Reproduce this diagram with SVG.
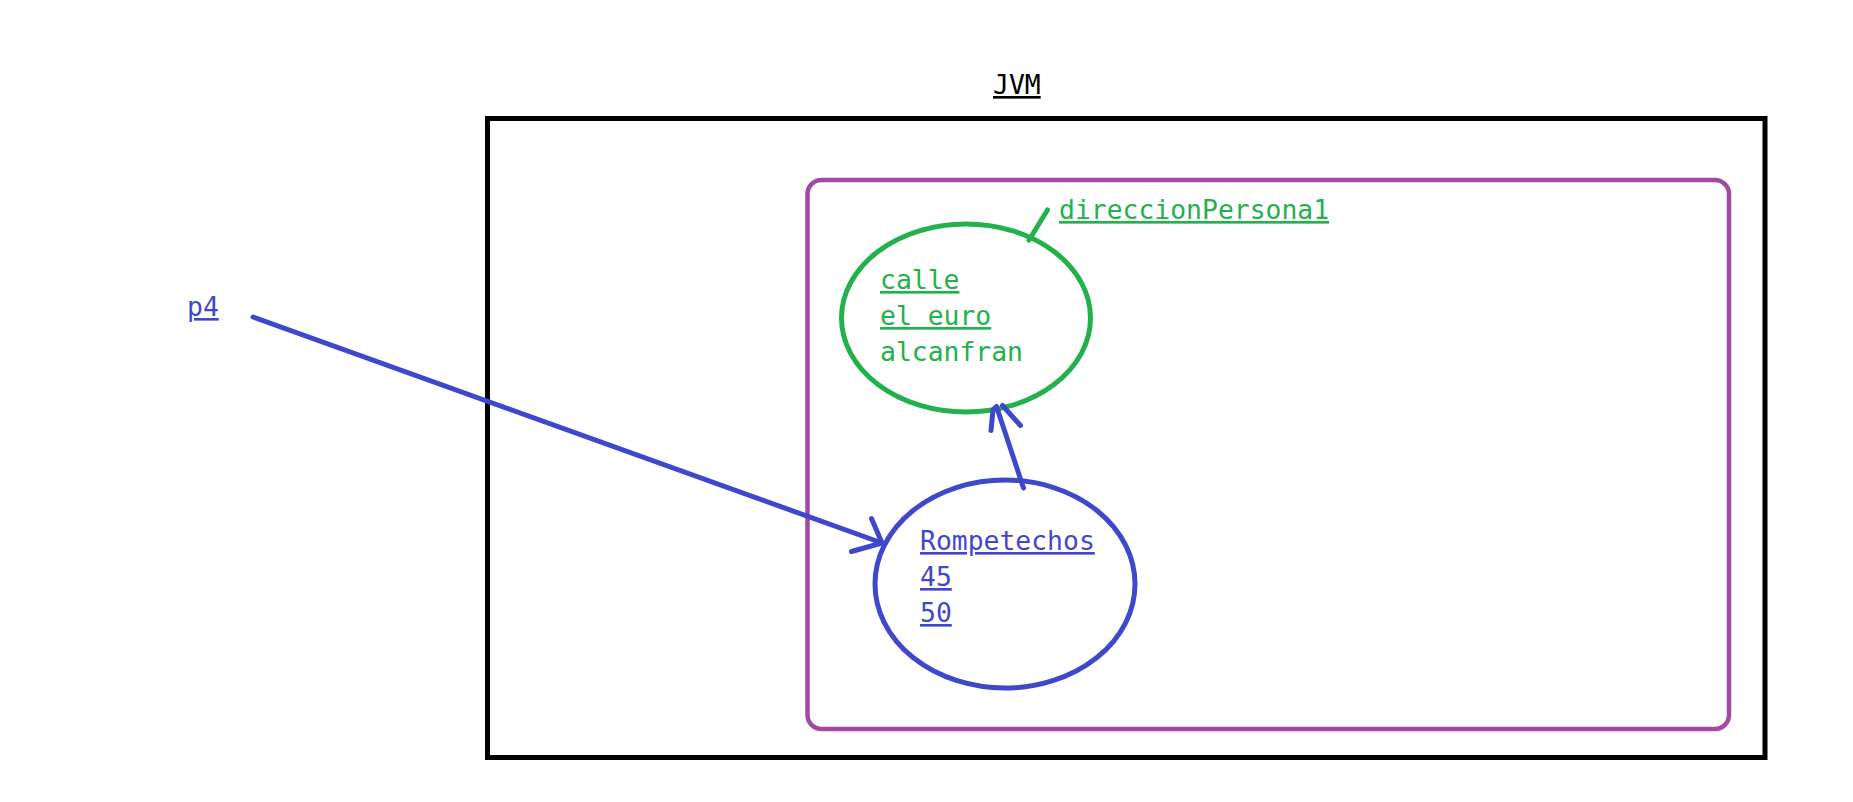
<svg xmlns="http://www.w3.org/2000/svg" width="1853" height="802" viewBox="0 0 1853 802">
<style>
text{font-family:"DejaVu Sans Mono","Liberation Mono",monospace;font-size:26.4px}
.u{text-decoration:underline}
.blue{fill:#3f48cc}
.green{fill:#22b14c}
.blk{fill:#000}
.ln{fill:none;stroke:#3f48cc;stroke-width:5;stroke-linecap:round;stroke-linejoin:round}
</style>
<rect width="1853" height="802" fill="#fff"/>
<g id="jvm">
<rect x="487.5" y="118.5" width="1277.5" height="639" fill="none" stroke="#000" stroke-width="5"/>
<text x="993" y="94" class="blk u">JVM</text>
</g>
<g id="heap">
<rect x="807.5" y="180" width="921.5" height="549" rx="14" ry="14" fill="none" stroke="#a349a4" stroke-width="4.5"/>
</g>
<g id="direccionPersona1">
<ellipse cx="966" cy="318" rx="124.5" ry="94" fill="none" stroke="#22b14c" stroke-width="5"/>
<line x1="1029" y1="240" x2="1047.5" y2="210" stroke="#22b14c" stroke-width="5" stroke-linecap="round"/>
<text x="1059" y="219" class="green u">direccionPersona1</text>
<text x="880" y="289" class="green u">calle</text>
<text x="880" y="325" class="green u">el euro</text>
<text x="880" y="361" class="green">alcanfran</text>
</g>
<g id="persona">
<ellipse cx="1005" cy="584" rx="130" ry="104" fill="none" stroke="#3f48cc" stroke-width="5"/>
<text x="920" y="550" class="blue u">Rompetechos</text>
<text x="920" y="586" class="blue u">45</text>
<text x="920" y="622" class="blue u">50</text>
</g>
<g id="p4">
<text x="187" y="316" class="blue u">p4</text>
</g>
<g id="connectors">
<path class="ln" d="M253,317 L882,543 M871.5,518.5 L882,543 L851.5,551.5"/>
<path class="ln" d="M1023.5,488 L996.5,406.5 M991,430.5 L993,410 L996.5,406.5 M1002.5,405.5 L1020.5,425.5"/>
</g>
</svg>
